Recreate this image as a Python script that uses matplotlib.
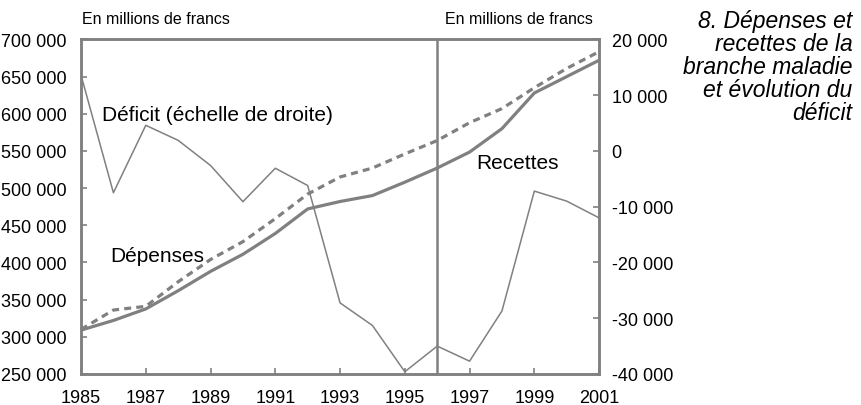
import matplotlib.pyplot as plt
from matplotlib.ticker import FuncFormatter

plt.rcParams['font.family'] = ['Liberation Sans', 'DejaVu Sans']

years = list(range(1985, 2002))

# En millions de francs (échelle de gauche)
depenses = [309000, 322000, 337500, 362000, 388000, 411000, 439000, 472000, 482000,
            490000, 508000, 527000, 548500, 580000, 628000, 650000, 672000]
recettes = [310000, 336000, 341000, 374000, 404000, 428000, 459000, 492000, 515000,
            527000, 546000, 564000, 588000, 607000, 635000, 661000, 683500]
# Déficit (échelle de droite)
deficit = [13600, -7500, 4600, 1900, -2600, -9100, -3100, -6200, -27250,
           -31300, -39600, -35000, -37700, -28700, -7200, -9000, -12000]

grey = '#808080'


def space_thousands(v, pos):
    return f"{int(round(v)):,}".replace(",", " ")


fig = plt.figure(figsize=(8.62, 4.06), dpi=100)
ax = fig.add_axes([0.094, 0.0764, 0.601, 0.824])
ax2 = ax.twinx()

ax.plot(years, depenses, color=grey, lw=2.3, solid_capstyle='butt')
ax.plot(years, recettes, color=grey, lw=2.3, ls=(0, (2.2, 1.6)))
ax2.plot(years, deficit, color=grey, lw=1.1)
ax.axvline(1996, color=grey, lw=1.8)

ax.set_xlim(1985, 2001)
ax.set_ylim(250000, 700000)
ax2.set_ylim(-40000, 20000)
ax.set_xticks(range(1985, 2002, 2))
ax.set_yticks(range(250000, 700001, 50000))
ax2.set_yticks(range(-40000, 20001, 10000))
ax.yaxis.set_major_formatter(FuncFormatter(space_thousands))
ax2.yaxis.set_major_formatter(FuncFormatter(space_thousands))

for a in (ax, ax2):
    for sp in a.spines.values():
        sp.set_color(grey)
        sp.set_linewidth(1.8)
    a.tick_params(direction='in', length=4, width=1.2, color=grey,
                  labelsize=13, labelcolor='black')
ax.tick_params(axis='x', pad=11)
ax.tick_params(axis='y', pad=10.5)
ax2.tick_params(axis='y', pad=9)

fig.text(0.095, 0.953, "En millions de francs", fontsize=11.5, va='center')
fig.text(0.516, 0.953, "En millions de francs", fontsize=11.5, va='center')

ax.text(1985.65, 599000, "Déficit (échelle de droite)", fontsize=15, va='center')
ax.text(1985.9, 410000, "Dépenses", fontsize=15, va='center')
ax.text(1997.2, 534000, "Recettes", fontsize=15, va='center')

fig.text(0.989, 0.975, "8. Dépenses et\nrecettes de la\nbranche maladie\net évolution du\ndéficit",
         fontsize=16.5, style='italic', ha='right', va='top', linespacing=1.0)

fig.savefig('out.png', dpi=100)
